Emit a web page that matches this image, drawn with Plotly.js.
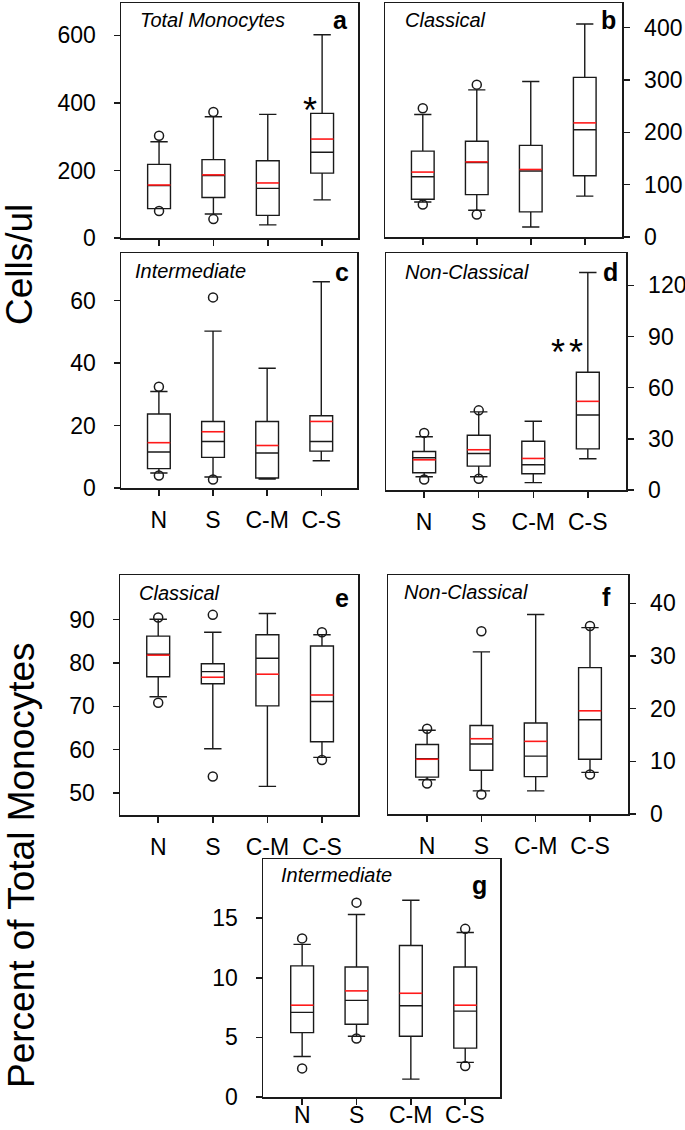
<!DOCTYPE html>
<html><head><meta charset="utf-8">
<script src="https://cdn.plot.ly/plotly-3.0.1.min.js"></script>
<style>html,body{margin:0;padding:0;background:#fff}#chart{width:685px;height:1130px}</style>
</head><body><div id="chart"></div>
<script>
// ---------- DATA ----------
const categories = ['N', 'S', 'C-M', 'C-S'];

// (a) Total Monocytes, Cells/ul
const aLow  = [87, 71, 39, 113];
const aQ1   = [87, 120, 67, 192];
const aMed  = [155, 185, 147, 254];
const aQ3   = [218, 232, 229, 369];
const aHigh = [285, 359, 366, 602];
const aMean = [157, 187, 163, 293];
const aOutCat = ['N', 'N', 'S', 'S'];
const aOutVal = [303, 80, 373, 56];

// (b) Classical, Cells/ul
const bLow  = [67, 51, 19, 78];
const bQ1   = [72, 81, 48, 117];
const bMed  = [115, 142, 126, 205];
const bQ3   = [164, 183, 175, 305];
const bHigh = [234, 281, 297, 407];
const bMean = [124, 143.5, 129, 218];
const bOutCat = ['N', 'N', 'S', 'S'];
const bOutVal = [246, 62, 291, 43];

// (c) Intermediate, Cells/ul
const cLow  = [4.8, 3.5, 2.9, 8.7];
const cQ1   = [6.2, 9.8, 3.2, 11.8];
const cMed  = [11.5, 14.9, 11.2, 14.9];
const cQ3   = [23.7, 21.3, 21.3, 23.1];
const cHigh = [30.9, 50.2, 38.3, 66];
const cMean = [14.5, 18.0, 13.6, 21.3];
const cOutCat = ['N', 'N', 'S', 'S'];
const cOutVal = [32.4, 4.0, 61, 2.7];

// (d) Non-Classical, Cells/ul
const dLow  = [7.8, 7.8, 4.3, 18.3];
const dQ1   = [10.1, 14.0, 9.5, 24.1];
const dMed  = [18.9, 21.4, 14.8, 44.0];
const dQ3   = [22.6, 32.1, 28.6, 69.1];
const dHigh = [31.2, 45.8, 40.3, 127.6];
const dMean = [17.7, 23.6, 18.5, 52.0];
const dOutCat = ['N', 'N', 'S', 'S'];
const dOutVal = [33.5, 6.2, 46.7, 6.6];

// (e) Classical, Percent of Total Monocytes
const eLow  = [72.2, 60.2, 51.5, 58.2];
const eQ1   = [76.8, 75.2, 70.1, 61.8];
const eMed  = [82.0, 78.0, 81.1, 71.1];
const eQ3   = [86.2, 79.8, 86.5, 83.9];
const eHigh = [90.1, 87.1, 91.4, 86.5];
const eMean = [81.8, 76.7, 77.4, 72.6];
const eOutCat = ['N', 'N', 'S', 'S', 'C-S', 'C-S'];
const eOutVal = [90.5, 70.8, 91.1, 53.8, 87.1, 57.6];

// (f) Non-Classical, Percent of Total Monocytes
const fLow  = [6.5, 4.4, 4.4, 7.9];
const fQ1   = [7.0, 8.3, 7.1, 10.4];
const fMed  = [10.5, 13.3, 11.0, 17.9];
const fQ3   = [13.2, 16.8, 17.3, 27.8];
const fHigh = [15.9, 30.8, 37.9, 35.4];
const fMean = [10.4, 14.3, 13.8, 19.6];
const fOutCat = ['N', 'N', 'S', 'S', 'C-S', 'C-S'];
const fOutVal = [16.2, 5.8, 34.7, 3.7, 35.7, 7.5];

// (g) Intermediate, Percent of Total Monocytes
const gLow  = [3.4, 5.1, 1.5, 2.9];
const gQ1   = [5.4, 6.1, 5.1, 4.1];
const gMed  = [7.1, 8.1, 7.65, 7.2];
const gQ3   = [11.0, 10.9, 12.7, 10.9];
const gHigh = [12.8, 15.3, 16.5, 13.8];
const gMean = [7.7, 8.9, 8.7, 7.7];
const gOutCat = ['N', 'N', 'S', 'S', 'C-S', 'C-S'];
const gOutVal = [13.3, 2.4, 16.3, 4.9, 14.1, 2.6];

// tick values
const aTicks = [0, 200, 400, 600];
const bTicks = [0, 100, 200, 300, 400];
const cTicks = [0, 20, 40, 60];
const dTicks = [0, 30, 60, 90, 120];
const eTicks = [50, 60, 70, 80, 90];
const fTicks = [0, 10, 20, 30, 40];
const gTicks = [0, 5, 10, 15];

// panel texts
const panelTitles = ['Total Monocytes', 'Classical', 'Intermediate', 'Non-Classical', 'Classical', 'Non-Classical', 'Intermediate'];
const panelLetters = ['a', 'b', 'c', 'd', 'e', 'f', 'g'];
const yTitleTop = 'Cells/ul';
const yTitleBottom = 'Percent of Total Monocytes';
const sigA = '*';
const sigD = '*';

// ---------- LAYOUT HELPERS ----------
const W = 685, H = 1130;
const px = v => v / W;
const py = v => 1 - v / H;
const FONT = 'Liberation Sans, Arial, Helvetica, sans-serif';
const INK = '#1a1a1a';
const TICKSIZE = 23;

const panels = [
  {low:aLow,q1:aQ1,med:aMed,q3:aQ3,high:aHigh,mean:aMean,oc:aOutCat,ov:aOutVal,ticks:aTicks,
   box:[121,358,3,238], yr:[0,696], xr:[-0.7,3.66], side:'left', labels:'none',
   title:[138,20], letter:[340,20]},
  {low:bLow,q1:bQ1,med:bMed,q3:bQ3,high:bHigh,mean:bMean,oc:bOutCat,ov:bOutVal,ticks:bTicks,
   box:[385,622,3,237], yr:[0,447], xr:[-0.7,3.69], side:'right', labels:'none',
   title:[403,20], letter:[608,20]},
  {low:cLow,q1:cQ1,med:cMed,q3:cQ3,high:cHigh,mean:cMean,oc:cOutCat,ov:cOutVal,ticks:cTicks,
   box:[121,357,253,488], yr:[0,75.2], xr:[-0.7,3.66], side:'left', labels:'axis',
   title:[133,271], letter:[342,272]},
  {low:dLow,q1:dQ1,med:dMed,q3:dQ3,high:dHigh,mean:dMean,oc:dOutCat,ov:dOutVal,ticks:dTicks,
   box:[386,626,253,490], yr:[0,139], xr:[-0.7,3.70], side:'right', labels:'axis',
   title:[403,272], letter:[610,272]},
  {low:eLow,q1:eQ1,med:eMed,q3:eQ3,high:eHigh,mean:eMean,oc:eOutCat,ov:eOutVal,ticks:eTicks,
   box:[120,358,575,815], yr:[44.9,100.3], xr:[-0.7,3.66], side:'left', labels:'axis',
   title:[137,593], letter:[342,598]},
  {low:fLow,q1:fQ1,med:fMed,q3:fQ3,high:fHigh,mean:fMean,oc:fOutCat,ov:fOutVal,ticks:fTicks,
   box:[388,628,575,814], yr:[0,45.4], xr:[-0.72,3.70], side:'right', labels:'axis',
   title:[402,592], letter:[606,597]},
  {low:gLow,q1:gQ1,med:gMed,q3:gQ3,high:gHigh,mean:gMean,oc:gOutCat,ov:gOutVal,ticks:gTicks,
   box:[263,500,859,1097], yr:[0,19.96], xr:[-0.72,3.64], side:'left', labels:'tight',
   title:[279,875], letter:[479,885]}
];

const traces = [];
const layout = {
  width: W, height: H,
  margin: {l:0, r:0, t:0, b:0},
  paper_bgcolor: '#fff', plot_bgcolor: '#fff',
  showlegend: false,
  font: {family: FONT, color: '#000'},
  annotations: []
};

const idx = categories.map((c, i) => i);
const HALF = 0.21;

panels.forEach((p, k) => {
  const n = k === 0 ? '' : String(k + 1);
  const xa = 'x' + n, ya = 'y' + n;
  traces.push({
    type: 'box', x: idx, q1: p.q1, median: p.med, q3: p.q3,
    lowerfence: p.low, upperfence: p.high,
    xaxis: xa, yaxis: ya, boxpoints: false, width: 0.42, whiskerwidth: 0.76,
    line: {color: INK, width: 1.4}, fillcolor: 'rgba(0,0,0,0)', hoverinfo: 'skip'
  });
  const mx = [], my = [];
  p.mean.forEach((m, i) => { mx.push(i - HALF, i + HALF, null); my.push(m, m, null); });
  traces.push({type: 'scatter', mode: 'lines', x: mx, y: my, xaxis: xa, yaxis: ya,
    line: {color: '#ff1a1a', width: 1.6}, hoverinfo: 'skip'});
  traces.push({type: 'scatter', mode: 'markers',
    x: p.oc.map(c => categories.indexOf(c)), y: p.ov, xaxis: xa, yaxis: ya,
    marker: {symbol: 'circle-open', size: 9, color: INK, line: {width: 1.5, color: INK}},
    hoverinfo: 'skip'});

  layout['xaxis' + n] = {
    domain: [px(p.box[0]), px(p.box[1])], anchor: ya, range: p.xr,
    tickmode: 'array', tickvals: idx, ticktext: categories,
    showticklabels: p.labels === 'axis', ticks: 'outside', ticklen: 6, tickwidth: 1.5, tickcolor: INK,
    showline: true, linecolor: INK, linewidth: 1.5, mirror: true,
    showgrid: false, zeroline: false, tickfont: {size: TICKSIZE, family: FONT, color: '#000'},
    ticklabelstandoff: 5, fixedrange: true
  };
  layout['yaxis' + n] = {
    domain: [py(p.box[3]), py(p.box[2])], anchor: xa, range: p.yr, side: p.side,
    tickmode: 'array', tickvals: p.ticks,
    ticks: 'outside', ticklen: 6, tickwidth: 1.5, tickcolor: INK,
    showline: true, linecolor: INK, linewidth: 1.5, mirror: true,
    showgrid: false, zeroline: false, tickfont: {size: TICKSIZE, family: FONT, color: '#000'},
    ticklabelstandoff: p.side === 'left' ? 13 : 10, fixedrange: true
  };
  if (p.labels === 'tight') {
    categories.forEach((c, i) => layout.annotations.push({
      xref: xa, yref: 'paper', x: i, y: py(1115), text: c, showarrow: false,
      xanchor: 'center', yanchor: 'middle',
      font: {size: TICKSIZE, family: FONT, color: '#000'}
    }));
  }
  layout.annotations.push({
    xref: 'paper', yref: 'paper', x: px(p.title[0]), y: py(p.title[1]),
    xanchor: 'left', yanchor: 'middle', showarrow: false,
    text: '<i>' + panelTitles[k] + '</i>', font: {size: 20, family: FONT, color: '#000'}
  });
  layout.annotations.push({
    xref: 'paper', yref: 'paper', x: px(p.letter[0]), y: py(p.letter[1]),
    xanchor: 'center', yanchor: 'middle', showarrow: false,
    text: '<b>' + panelLetters[k] + '</b>', font: {size: 25, family: FONT, color: '#000'}
  });
});

// significance marks
layout.annotations.push({xref: 'x', yref: 'y', x: 2.78, y: 394, text: sigA, showarrow: false,
  xanchor: 'center', yanchor: 'middle', yshift: -6, font: {size: 36, family: FONT, color: '#000'}});
layout.annotations.push({xref: 'x4', yref: 'y4', x: 2.45, y: 84, text: sigD, showarrow: false,
  xanchor: 'center', yanchor: 'middle', yshift: -6, font: {size: 36, family: FONT, color: '#000'}});
layout.annotations.push({xref: 'x4', yref: 'y4', x: 2.79, y: 84, text: sigD, showarrow: false,
  xanchor: 'center', yanchor: 'middle', yshift: -6, font: {size: 36, family: FONT, color: '#000'}});

// shared y titles
layout.annotations.push({xref: 'paper', yref: 'paper', x: px(19), y: py(265), text: yTitleTop,
  textangle: -90, showarrow: false, xanchor: 'center', yanchor: 'middle',
  font: {size: 37, family: FONT, color: '#000'}});
layout.annotations.push({xref: 'paper', yref: 'paper', x: px(21), y: py(865), text: yTitleBottom,
  textangle: -90, showarrow: false, xanchor: 'center', yanchor: 'middle',
  font: {size: 37, family: FONT, color: '#000'}});

Plotly.newPlot('chart', traces, layout, {staticPlot: true, displayModeBar: false});
</script>
</body></html>
